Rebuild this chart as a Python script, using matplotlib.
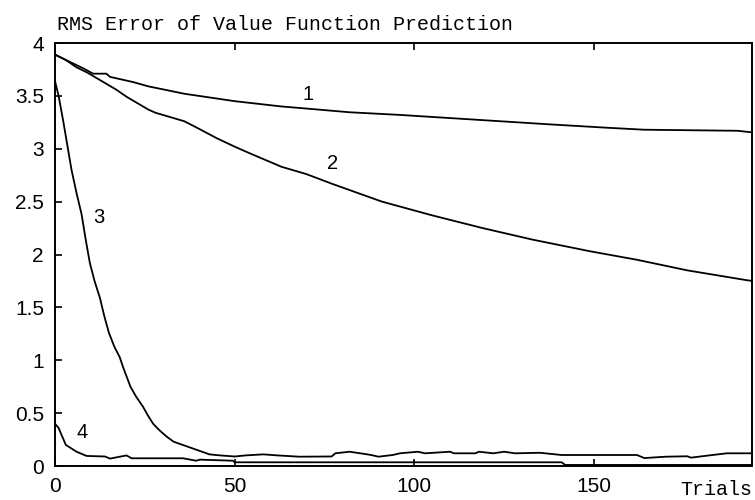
import matplotlib
matplotlib.use("Agg")
import matplotlib.pyplot as plt

# Learning curves: RMS error of value function prediction vs. trials
trials_1 = [0, 4.2, 7.9, 10.6, 14.3, 15.3, 21.8, 26, 36, 50, 63, 70, 82, 96, 110,
            124, 138, 153, 164, 190, 194]
rms_1 = [3.89, 3.82, 3.76, 3.71, 3.71, 3.68, 3.63, 3.59, 3.52, 3.45, 3.40, 3.38,
         3.345, 3.32, 3.29, 3.26, 3.23, 3.20, 3.18, 3.17, 3.155]

trials_2 = [0, 3, 6, 9, 11, 13, 15, 17, 20, 23, 26, 28, 31, 36, 40, 45, 50, 54,
            63, 70, 77, 91, 105, 119, 133, 149, 162, 176, 192, 194]
rms_2 = [3.89, 3.84, 3.77, 3.72, 3.68, 3.64, 3.60, 3.56, 3.49, 3.43, 3.37, 3.34,
         3.31, 3.26, 3.19, 3.10, 3.02, 2.96, 2.83, 2.76, 2.67, 2.50, 2.37, 2.25,
         2.14, 2.03, 1.95, 1.85, 1.76, 1.75]

trials_3 = [0, 1, 2.3, 3.5, 4.6, 6, 7.4, 8.5, 9.7, 11, 12.5, 13.7, 15, 16.5, 18,
            19, 20, 21, 22.5, 24.5, 26, 27.3, 29, 31, 33, 35.5, 38, 40.5, 43, 46,
            50, 53, 58, 62, 68, 77, 78, 82, 85, 88, 90, 94, 96, 101, 103, 110, 111,
            117, 118, 122, 125, 128, 135, 141, 162, 164, 170, 176, 177, 183, 187,
            194]
rms_3 = [3.64, 3.50, 3.26, 3.02, 2.80, 2.58, 2.38, 2.15, 1.92, 1.75, 1.59, 1.42,
         1.26, 1.13, 1.03, 0.93, 0.84, 0.75, 0.66, 0.56, 0.47, 0.40, 0.34, 0.28,
         0.23, 0.20, 0.17, 0.14, 0.11, 0.10, 0.09, 0.10, 0.11, 0.10, 0.088, 0.09,
         0.12, 0.135, 0.12, 0.104, 0.088, 0.104, 0.12, 0.135, 0.12, 0.135, 0.12,
         0.12, 0.135, 0.12, 0.135, 0.12, 0.125, 0.104, 0.104, 0.075, 0.088, 0.092,
         0.079, 0.104, 0.12, 0.12]

trials_4 = [0, 1, 3, 6, 8.8, 13.9, 15.3, 19.9, 21.3, 35.6, 39.3, 40.3, 49.5, 50,
            141, 142, 194]
rms_4 = [0.40, 0.36, 0.20, 0.135, 0.095, 0.09, 0.07, 0.10, 0.073, 0.073, 0.05,
         0.06, 0.05, 0.035, 0.035, 0.01, 0.01]

curve_labels = ["1", "2", "3", "4"]
label_x = [70.3, 77.2, 12.2, 7.5]
label_y = [3.51, 2.86, 2.35, 0.32]

x_ticks = [0, 50, 100, 150]
y_ticks = [0, 0.5, 1, 1.5, 2, 2.5, 3, 3.5, 4]
y_tick_labels = ["0", "0.5", "1", "1.5", "2", "2.5", "3", "3.5", "4"]

fig = plt.figure(figsize=(7.55, 5.0), dpi=100)
ax = fig.add_axes([55 / 755, 34 / 500, 697 / 755, 423 / 500])

for xs, ys in [(trials_1, rms_1), (trials_2, rms_2), (trials_3, rms_3), (trials_4, rms_4)]:
    ax.plot(xs, ys, color="black", lw=1.3, solid_joinstyle="round")

for lab, lx, ly in zip(curve_labels, label_x, label_y):
    ax.text(lx, ly, lab, fontsize=14.5, family="Liberation Sans", ha="center",
            va="center", color="black")

ax.set_xlim(0, 194)
ax.set_ylim(0, 4)
ax.set_xticks(x_ticks)
ax.set_xticklabels([str(t) for t in x_ticks])
ax.set_yticks(y_ticks)
ax.set_yticklabels(y_tick_labels)
ax.tick_params(direction="in", length=5, width=1.2, colors="black",
               labelsize=15, top=True, right=False, pad=8)
for lbl in ax.get_xticklabels() + ax.get_yticklabels():
    lbl.set_family("Liberation Sans")
for sp in ax.spines.values():
    sp.set_linewidth(1.4)
    sp.set_color("black")

fig.text(57 / 755, 1 - 30 / 500, "RMS Error of Value Function Prediction",
         family="Liberation Mono", fontsize=14.4, ha="left", va="baseline")
fig.text(752 / 755, 1 - 495 / 500, "Trials", family="Liberation Mono",
         fontsize=14.4, ha="right", va="baseline")

fig.savefig("out.png", dpi=100, facecolor="white")
